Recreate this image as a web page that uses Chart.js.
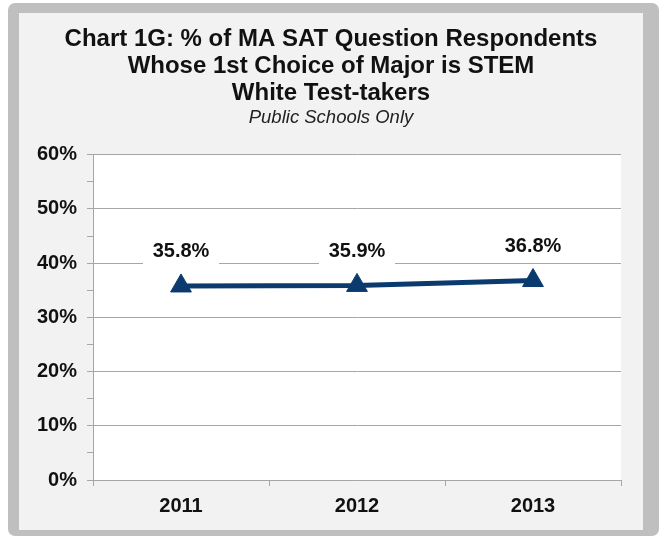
<!DOCTYPE html>
<html>
<head>
<meta charset="utf-8">
<script src="https://cdn.jsdelivr.net/npm/chart.js@4"></script>
<style>
  html, body { margin: 0; padding: 0; background: #ffffff; width: 659px; height: 536px; overflow: hidden; }
  #frame { position: absolute; left: 8px; top: 3px; width: 651px; height: 533px; background: #bfbfbf; border-radius: 7px; }
  #wrap { position: absolute; left: 19px; top: 13px; width: 624px; height: 517px; background: #f2f2f2; }
  canvas { display: block; }
</style>
</head>
<body>
<div id="frame"></div>
<div id="wrap"><canvas id="c" width="624" height="517"></canvas></div>
<script>
const categories = ['2011', '2012', '2013'];
const stemShare = [35.8, 35.9, 36.8];
const dataLabels = ['35.8%', '35.9%', '36.8%'];
const yTickLabels = { 0: '0%', 10: '10%', 20: '20%', 30: '30%', 40: '40%', 50: '50%', 60: '60%' };
const titleLines = ['Chart 1G: % of MA SAT Question Respondents', 'Whose 1st Choice of Major is STEM', 'White Test-takers'];
const subtitleText = 'Public Schools Only';

const FONT = '"Liberation Sans", Arial, sans-serif';
const GRID = '#a6a6a6';
const NAVY = '#0b3a6e';

const plotBg = {
  id: 'plotBg',
  beforeDraw(chart) {
    const { ctx, chartArea: a } = chart;
    ctx.save();
    ctx.fillStyle = '#ffffff';
    ctx.fillRect(a.left, a.top, a.right - a.left, a.bottom - a.top);
    ctx.restore();
  }
};

const valueLabels = {
  id: 'valueLabels',
  afterDatasetsDraw(chart) {
    const { ctx } = chart;
    const meta = chart.getDatasetMeta(0);
    ctx.save();
    ctx.font = 'bold 20px ' + FONT;
    ctx.textAlign = 'center';
    ctx.textBaseline = 'middle';
    meta.data.forEach((pt, i) => {
      const x = pt.x;
      const y = pt.y - 34;
      ctx.fillStyle = '#ffffff';
      ctx.fillRect(x - 38, y - 12, 76, 26);
      ctx.fillStyle = '#111111';
      ctx.fillText(dataLabels[i], x, y);
    });
    ctx.restore();
  }
};

new Chart(document.getElementById('c'), {
  type: 'line',
  data: {
    labels: categories,
    datasets: [{
      data: stemShare,
      borderColor: NAVY,
      backgroundColor: NAVY,
      borderWidth: 5,
      pointStyle: 'triangle',
      pointRadius: 12,
      pointBorderWidth: 1,
      pointBackgroundColor: NAVY,
      pointBorderColor: NAVY,
      tension: 0,
      fill: false
    }]
  },
  options: {
    responsive: false,
    animation: false,
    devicePixelRatio: 1,
    layout: { padding: { left: 0, right: 0, top: 0, bottom: 0 } },
    plugins: {
      legend: { display: false },
      tooltip: { enabled: false },
      title: {
        display: true,
        text: titleLines,
        color: '#111111',
        font: { family: FONT, size: 24, weight: 'bold', lineHeight: 1.125 },
        padding: { top: 13, bottom: 0 }
      },
      subtitle: {
        display: true,
        text: subtitleText,
        color: '#222222',
        font: { family: FONT, size: 18.5, style: 'italic', lineHeight: 1.15 },
        padding: { top: 0, bottom: 26.5 }
      }
    },
    scales: {
      x: {
        offset: true,
        border: { display: true, color: GRID, width: 1 },
        grid: { offset: true, drawOnChartArea: false, color: GRID, tickLength: 6 },
        ticks: { color: '#111111', font: { family: FONT, size: 20, weight: 'bold' }, padding: 8 },
        afterFit(s) { s.height = 50; }
      },
      y: {
        min: 0,
        max: 60,
        border: { display: true, color: GRID, width: 1 },
        grid: {
          color: (c) => (c.tick && c.tick.value % 10 === 0 ? GRID : 'rgba(0,0,0,0)'),
          tickColor: GRID,
          tickLength: 6
        },
        ticks: {
          stepSize: 5,
          autoSkip: false,
          color: '#111111',
          font: { family: FONT, size: 20, weight: 'bold' },
          padding: 10,
          callback: (v) => (yTickLabels[v] !== undefined ? yTickLabels[v] : '')
        },
        afterFit(s) { s.width = 74; }
      },
      yPad: {
        type: 'linear',
        position: 'right',
        display: true,
        grid: { display: false, drawTicks: false },
        border: { display: false },
        ticks: { display: false },
        afterFit(s) { s.width = 22; }
      }
    }
  },
  plugins: [plotBg, valueLabels]
});
</script>
</body>
</html>
